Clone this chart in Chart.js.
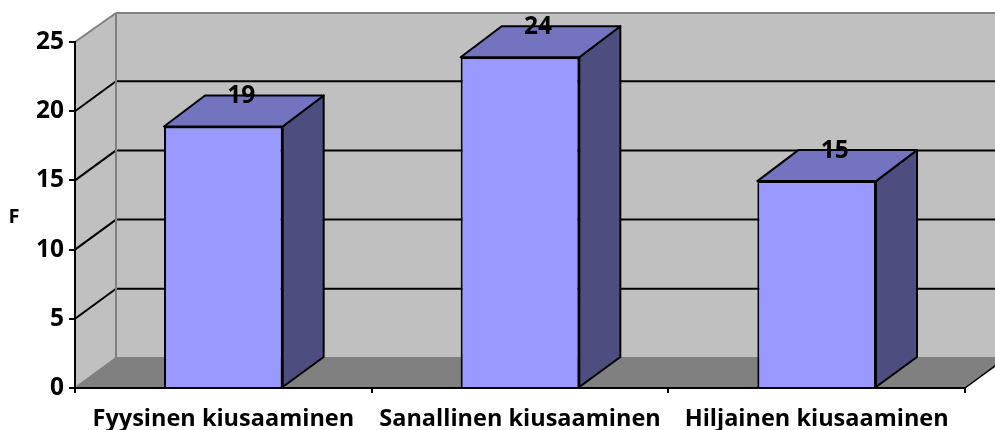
<!DOCTYPE html>
<html>
<head>
<meta charset="utf-8">
<title>Kiusaaminen</title>
<style>
    html, body { margin: 0; padding: 0; background: #fff; overflow: hidden; }
    canvas { display: block; }
</style>
<script src="https://cdn.jsdelivr.net/npm/chart.js@4"></script>
</head>
<body>
<canvas id="barChart" width="995" height="430"></canvas>
<script>
const categories = ['Fyysinen kiusaaminen', 'Sanallinen kiusaaminen', 'Hiljainen kiusaaminen'];
const values = [18.9, 23.9, 14.95];
const axisTicks = [0, 5, 10, 15, 20, 25];
const axisTitle = 'F';

const FONT = '"Open Sans", sans-serif';
const DEPTH_X = 41;
const DEPTH_Y = 30;

function poly(ctx, points, fill, stroke, width) {
    ctx.beginPath();
    points.forEach((p, i) => i ? ctx.lineTo(p[0], p[1]) : ctx.moveTo(p[0], p[1]));
    ctx.closePath();
    if (fill) {
        ctx.fillStyle = fill;
        ctx.fill();
    }
    if (stroke) {
        ctx.strokeStyle = stroke;
        ctx.lineWidth = width;
        ctx.stroke();
    }
}

function line(ctx, x1, y1, x2, y2, color, width) {
    ctx.beginPath();
    ctx.moveTo(x1, y1);
    ctx.lineTo(x2, y2);
    ctx.strokeStyle = color;
    ctx.lineWidth = width;
    ctx.stroke();
}

// Walls and floor of the 3D box, drawn behind the axes
const box3d = {
    id: 'box3d',
    beforeDraw(chart) {
        const { ctx, chartArea: a, scales } = chart;
        const bx = a.left + DEPTH_X, tx = a.right + DEPTH_X;
        const by = a.bottom - DEPTH_Y, ty = a.top - DEPTH_Y + 1;
        ctx.save();
        poly(ctx, [[bx, ty], [tx, ty], [tx, by], [bx, by]], '#c0c0c0');
        poly(ctx, [[a.left, a.top], [bx, ty], [bx, by], [a.left, a.bottom]], '#c0c0c0');
        poly(ctx, [[a.left, a.bottom], [bx, by], [tx, by], [a.right, a.bottom]], '#808080');

        axisTicks.slice(1, -1).forEach(t => {
            const y = scales.y.getPixelForValue(t);
            line(ctx, a.left, y, bx, y - DEPTH_Y, '#000', 2);
            line(ctx, bx, y - DEPTH_Y, tx, y - DEPTH_Y, '#000', 2);
        });

        line(ctx, a.left, a.top, bx, ty, '#808080', 2);
        line(ctx, bx, ty, tx, ty, '#808080', 2);
        line(ctx, bx, ty, bx, by, '#808080', 2);
        line(ctx, a.left, a.bottom, bx, by, '#808080', 2);
        line(ctx, bx, by, tx, by, '#808080', 2);
        line(ctx, a.right, a.bottom, tx, by, '#000', 1.5);
        ctx.restore();
    },
    // Top and side of each bar, behind the flat front face
    beforeDatasetsDraw(chart) {
        const { ctx } = chart;
        ctx.save();
        ctx.lineJoin = 'round';
        chart.getDatasetMeta(0).data.forEach(bar => {
            const l = bar.x - bar.width / 2, r = bar.x + bar.width / 2;
            poly(ctx, [[r, bar.y], [r + DEPTH_X, bar.y - DEPTH_Y - 1], [r + DEPTH_X, bar.base - DEPTH_Y], [r, bar.base]], '#4d4d80', '#000', 2);
            poly(ctx, [[l, bar.y], [l + DEPTH_X, bar.y - DEPTH_Y - 1], [r + DEPTH_X, bar.y - DEPTH_Y - 1], [r, bar.y]], '#7373bf', '#000', 2);
        });
        ctx.restore();
    },
    afterDatasetsDraw(chart) {
        const { ctx } = chart;
        ctx.save();
        ctx.fillStyle = '#000';
        ctx.textAlign = 'center';
        ctx.textBaseline = 'middle';
        ctx.font = 'bold 24.5px ' + FONT;
        chart.getDatasetMeta(0).data.forEach((bar, i) => {
            ctx.fillText(String(Math.round(values[i])), bar.x + 18, bar.y - 30);
        });
        ctx.font = 'bold 20px ' + FONT;
        ctx.fillText(axisTitle, 14, 217);
        ctx.restore();
    }
};

new Chart(document.getElementById('barChart').getContext('2d'), {
    type: 'bar',
    data: {
        labels: categories,
        datasets: [{
            data: values,
            backgroundColor: '#9999ff',
            borderColor: '#000',
            borderWidth: 2,
            barPercentage: 0.4,
            categoryPercentage: 1
        }]
    },
    options: {
        responsive: false,
        animation: false,
        layout: { padding: { left: 0, right: 30, top: 42, bottom: 0 } },
        plugins: {
            legend: { display: false },
            tooltip: { enabled: false }
        },
        scales: {
            x: {
                afterFit: scale => { scale.height = 42; },
                border: { color: '#000', width: 2 },
                grid: { drawOnChartArea: false, color: '#000', lineWidth: 2, tickLength: 5 },
                ticks: {
                    color: '#000',
                    autoSkip: false,
                    maxRotation: 0,
                    padding: 12,
                    font: { family: FONT, size: 23.5, weight: 'bold' }
                }
            },
            y: {
                min: 0,
                max: 25,
                afterFit: scale => { scale.width = 75; },
                afterBuildTicks: scale => { scale.ticks = axisTicks.map(value => ({ value })); },
                border: { color: '#000', width: 2 },
                grid: { drawOnChartArea: false, color: '#000', lineWidth: 2, tickLength: 6 },
                ticks: {
                    color: '#000',
                    padding: 5,
                    font: { family: FONT, size: 24.5, weight: 'bold' }
                }
            }
        }
    },
    plugins: [box3d]
});
</script>
</body>
</html>
